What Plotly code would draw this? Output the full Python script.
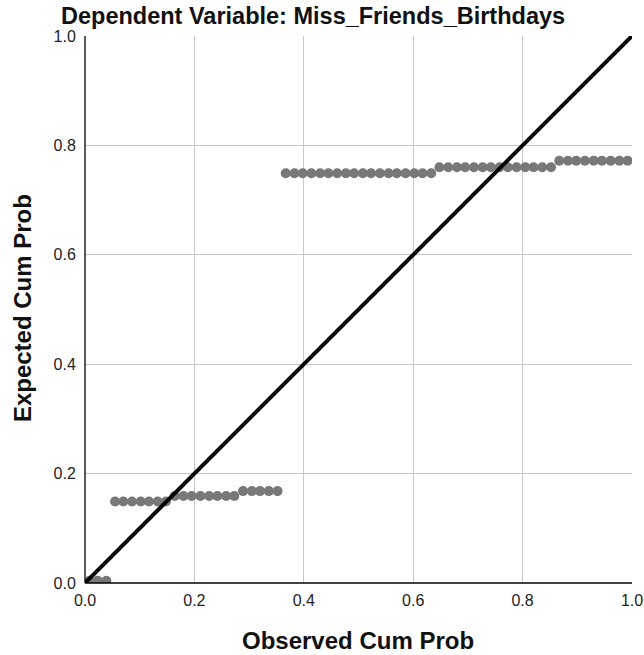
import plotly.graph_objects as go

# Observed cumulative probabilities (x) and expected cumulative probabilities (y)
observed_cum_prob = [
    0.008, 0.023, 0.039,
    0.055, 0.070, 0.086, 0.102, 0.117, 0.133, 0.148,
    0.164, 0.180, 0.195, 0.211, 0.227, 0.242, 0.258, 0.273,
    0.289, 0.305, 0.320, 0.336, 0.352,
    0.367, 0.383, 0.398, 0.414, 0.430, 0.445, 0.461, 0.477, 0.492,
    0.508, 0.523, 0.539, 0.555, 0.570, 0.586, 0.602, 0.617, 0.633,
    0.648, 0.664, 0.680, 0.695, 0.711, 0.727, 0.742, 0.758, 0.773,
    0.789, 0.805, 0.820, 0.836, 0.852,
    0.867, 0.883, 0.898, 0.914, 0.930, 0.945, 0.961, 0.977, 0.992,
]
expected_cum_prob = (
    [0.004] * 3
    + [0.149] * 7
    + [0.159] * 8
    + [0.168] * 5
    + [0.749] * 18
    + [0.760] * 14
    + [0.772] * 9
)

diag_x = [0.0, 1.0]
diag_y = [0.0, 1.0]

tick_vals = [0.0, 0.2, 0.4, 0.6, 0.8, 1.0]
tick_text = ["0.0", "0.2", "0.4", "0.6", "0.8", "1.0"]

title_text = "Dependent Variable: Miss_Friends_Birthdays"
x_title = "Observed Cum Prob"
y_title = "Expected Cum Prob"

FONT = "Liberation Sans, Arial, sans-serif"

fig = go.Figure()
fig.add_trace(go.Scatter(
    x=observed_cum_prob, y=expected_cum_prob, mode="markers",
    marker=dict(size=10, color="#787878", line=dict(width=0)),
    hoverinfo="x+y", showlegend=False,
))
fig.add_trace(go.Scatter(
    x=diag_x, y=diag_y, mode="lines",
    line=dict(color="black", width=4),
    showlegend=False, hoverinfo="skip",
))

L, R, T, B = 85, 12.3, 36, 72.3
W, H = 644, 655
plot_h = H - T - B
plot_w = W - L - R

def px_to_paper_y(py):
    return (H - B - py) / plot_h

def px_to_paper_x(px):
    return (px - L) / plot_w

axis_common = dict(
    range=[0, 1], tickvals=tick_vals, ticktext=tick_text,
    showgrid=True, gridcolor="#c8c8c8", gridwidth=1,
    zeroline=False, showline=False, automargin=False,
    tickfont=dict(family=FONT, size=16, color="#222222"),
    ticks="outside", tickcolor="rgba(0,0,0,0)",
    fixedrange=True,
)

fig.update_layout(
    width=W, height=H,
    margin=dict(l=L, r=R, t=T, b=B, pad=0, autoexpand=False),
    paper_bgcolor="white", plot_bgcolor="white",
    xaxis=dict(**axis_common, ticklen=3),
    yaxis=dict(**axis_common, ticklen=5),
    shapes=[
        dict(type="line", xref="paper", yref="paper", x0=0, x1=0, y0=0, y1=1,
             line=dict(color="black", width=1.3)),
        dict(type="line", xref="paper", yref="paper", x0=0, x1=1, y0=0, y1=0,
             line=dict(color="black", width=1.3)),
    ],
    annotations=[
        dict(text="<b>" + title_text + "</b>", xref="paper", yref="paper",
             x=px_to_paper_x(313), y=px_to_paper_y(16.5), xanchor="center", yanchor="middle",
             showarrow=False, font=dict(family=FONT, size=23.5, color="#111111")),
        dict(text="<b>" + x_title + "</b>", xref="paper", yref="paper",
             x=px_to_paper_x(358), y=px_to_paper_y(640), xanchor="center", yanchor="middle",
             showarrow=False, font=dict(family=FONT, size=24, color="#111111")),
        dict(text="<b>" + y_title + "</b>", xref="paper", yref="paper",
             x=px_to_paper_x(22), y=px_to_paper_y(308), xanchor="center", yanchor="middle",
             textangle=-90, showarrow=False, font=dict(family=FONT, size=24, color="#111111")),
    ],
)

fig.write_html("out.html")
